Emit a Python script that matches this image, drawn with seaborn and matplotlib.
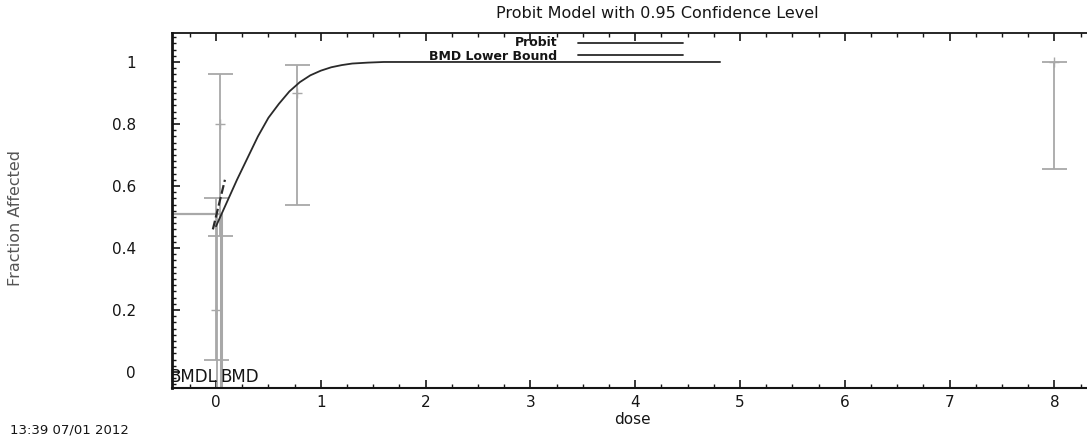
import matplotlib
matplotlib.use("Agg")
import matplotlib.pyplot as plt
import seaborn as sns
import pandas as pd
from matplotlib.ticker import AutoMinorLocator, MultipleLocator

# ---- data ----
obs_dose = [0.0, 0.04, 0.77, 8.0]
obs_frac = [0.20, 0.80, 0.90, 1.00]
obs_lower = [0.04, 0.44, 0.54, 0.655]
obs_upper = [0.56, 0.96, 0.99, 1.00]

fit_dose = [0.00, 0.10, 0.20, 0.30, 0.40, 0.50, 0.60, 0.70, 0.80, 0.90,
            1.00, 1.10, 1.20, 1.30, 1.45, 1.60, 4.81]
fit_frac = [0.47, 0.545, 0.62, 0.69, 0.76, 0.82, 0.865, 0.905, 0.935, 0.957,
            0.972, 0.983, 0.990, 0.995, 0.998, 1.0, 1.0]

lb_dose = [-0.03, 0.085]
lb_frac = [0.46, 0.62]

bmdl = 0.012
bmd = 0.045
bmr_level = 0.51

title = "Probit Model with 0.95 Confidence Level"
xlabel = "dose"
ylabel = "Fraction Affected"
stamp = "13:39 07/01 2012"
xticks = [0, 1, 2, 3, 4, 5, 6, 7, 8]
yticks = [0, 0.2, 0.4, 0.6, 0.8, 1]
ytick_labels = ["0", "0.2", "0.4", "0.6", "0.8", "1"]

sns.set_style("ticks")
plt.rcParams["font.family"] = ["DejaVu Sans"]

fig = plt.figure(figsize=(10.87, 4.38), dpi=100)
ax = fig.add_axes([172 / 1087, 1 - 388 / 438, 1 - 172 / 1087, (388 - 33) / 438])

gray = "#a8a8a8"
dark = "#2a2a2a"
ink = "#151515"

# observed data with CIs
yerr = [[f - l for f, l in zip(obs_frac, obs_lower)],
        [u - f for f, u in zip(obs_frac, obs_upper)]]
ax.errorbar(obs_dose, obs_frac, yerr=yerr, fmt="+", color=gray, ecolor=gray,
            elinewidth=1.3, capsize=9, capthick=1.3, markersize=7, zorder=2)

# BMD / BMDL lines
ax.plot([-0.42, bmd], [bmr_level, bmr_level], color=gray, lw=1.6, zorder=1)
ax.plot([bmd, bmd], [-0.06, bmr_level], color=gray, lw=2.2, zorder=1)
ax.plot([bmdl, bmdl], [-0.06, bmr_level], color=gray, lw=1.3, zorder=1)

# fitted probit curve
fit_df = pd.DataFrame({"dose": fit_dose, "frac": fit_frac})
sns.lineplot(data=fit_df, x="dose", y="frac", color=dark, lw=1.3, ax=ax,
             sort=False, zorder=3)
lb_df = pd.DataFrame({"dose": lb_dose, "frac": lb_frac})
sns.lineplot(data=lb_df, x="dose", y="frac", color=dark, lw=1.6, ax=ax,
             sort=False, zorder=3, linestyle=(0, (4, 1.5)))

ax.set_xlim(-0.42, 8.311)
ax.set_ylim(-0.0516, 1.0935)
ax.set_xticks(xticks)
ax.set_yticks(yticks)
ax.set_yticklabels(ytick_labels)
ax.xaxis.set_minor_locator(AutoMinorLocator(4))
ax.yaxis.set_minor_locator(MultipleLocator(0.02))
ax.tick_params(which="both", direction="in", top=True, right=False,
               colors=ink)
ax.tick_params(which="major", length=6, width=1.2, labelsize=11)
ax.tick_params(which="minor", length=3, width=1.0)
ax.tick_params(axis="y", which="major", pad=26)
ax.tick_params(axis="x", which="major", pad=5)
for s in ["left", "bottom", "top"]:
    ax.spines[s].set_visible(True)
    ax.spines[s].set_color(ink)
ax.spines["left"].set_linewidth(2.0)
ax.spines["bottom"].set_linewidth(1.5)
ax.spines["top"].set_linewidth(1.3)
ax.spines["right"].set_visible(False)

ax.set_xlabel("")
ax.set_ylabel("")

# texts
fig.text(657 / 1087, 1 - 14 / 438, title, ha="center", va="center",
         fontsize=11.5, color=ink)
fig.text(632 / 1087, 1 - 420 / 438, xlabel, ha="center", va="center",
         fontsize=11, color=ink)
fig.text(16 / 1087, 1 - 218 / 438, ylabel, ha="center", va="center",
         rotation=90, fontsize=11.5, color="#555555")
fig.text(10 / 1087, 1 - 430 / 438, stamp, ha="left", va="center",
         fontsize=9.5, color=ink)

# legend drawn as in the original
fig.text(557 / 1087, 1 - 42 / 438, "Probit", ha="right", va="center",
         fontsize=9, fontweight="bold", color=ink)
fig.text(557 / 1087, 1 - 56 / 438, "BMD Lower Bound", ha="right", va="center",
         fontsize=9, fontweight="bold", color=ink)
fig.add_artist(plt.Line2D([578 / 1087, 683 / 1087], [1 - 43 / 438, 1 - 43 / 438],
                          color=dark, lw=1.3))
fig.add_artist(plt.Line2D([578 / 1087, 683 / 1087], [1 - 55 / 438, 1 - 55 / 438],
                          color=dark, lw=1.3))

# BMDL / BMD labels
ax.text(bmdl, -0.016, "BMDL", ha="right", va="center", fontsize=12,
        color=ink)
ax.text(bmd, -0.016, "BMD", ha="left", va="center", fontsize=12,
        color=ink)

fig.savefig("out.png", dpi=100)
